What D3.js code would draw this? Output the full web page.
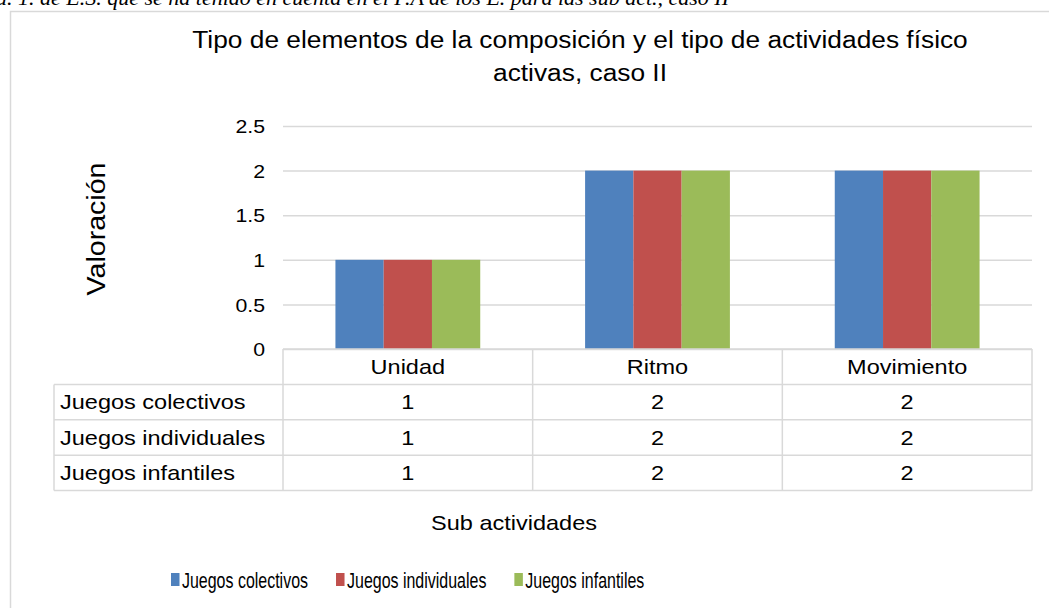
<!DOCTYPE html>
<html>
<head>
<meta charset="utf-8">
<script src="https://cdn.jsdelivr.net/npm/d3@7"></script>
<style>
  body { margin: 0; background: #fff; }
  svg { display: block; }
</style>
</head>
<body>
<div id="chart"></div>
<script>
// values
const categories = ['Unidad', 'Ritmo', 'Movimiento']
const seriesNames = ['Juegos colectivos', 'Juegos individuales', 'Juegos infantiles']
const colectivos = [1, 2, 2]
const individuales = [1, 2, 2]
const infantiles = [1, 2, 2]
const yTicks = [0, 0.5, 1, 1.5, 2, 2.5]
const colors = ['#4f81bd', '#c0504d', '#9bbb59']

const seriesValues = [colectivos, individuales, infantiles]

const width = 1049
const height = 608
const font = 'Liberation Sans, Arial, sans-serif'
const SX = 1.12 // text in the picture is drawn a bit wide
const grid = '#d9d9d9'

const plot = { left: 283, right: 1032, top: 126, bottom: 349 }
const rowH = 35.4
const labelLeft = 54

const svg = d3.select('#chart')
  .append('svg')
  .attr('width', width)
  .attr('height', height)

const txt = (x, y, str, size, anchor, sx, rot) => {
  return svg.append('text')
    .attr('transform', `translate(${x},${y})` + (rot ? ` rotate(${rot})` : '') + ` scale(${sx},1)`)
    .attr('text-anchor', anchor)
    .attr('font-family', font)
    .attr('font-size', size)
    .attr('fill', '#000')
    .text(str)
}

// caption of the page, cut off by the top edge (as in the source)
svg.append('text')
  .attr('x', -4)
  .attr('y', 5)
  .attr('font-family', 'Liberation Serif, Times New Roman, serif')
  .attr('font-style', 'italic')
  .attr('font-size', 22)
  .text('a. 1. de E.S. que se ha tenido en cuenta en el P.A de los E. para las sub act., caso II')

// chart frame
svg.append('rect')
  .attr('x', 10.5)
  .attr('y', 11.5)
  .attr('width', 1200)
  .attr('height', 800)
  .attr('fill', 'none')
  .attr('stroke', grid)
  .attr('stroke-width', 1.5)

// title
txt(580, 47.5, 'Tipo de elementos de la composición y el tipo de actividades físico', 23.5, 'middle', SX)
txt(580, 80.5, 'activas, caso II', 23.5, 'middle', SX)

const x0 = d3.scaleBand()
  .domain(categories)
  .range([plot.left, plot.right])
  .paddingInner(0)
  .paddingOuter(0)

const groupW = x0.bandwidth() * 0.58
const x1 = d3.scaleBand()
  .domain(seriesNames)
  .range([0, groupW])

const y = d3.scaleLinear()
  .domain([0, 2.5])
  .range([plot.bottom, plot.top])

// gridlines
const gridAxis = svg.append('g')
  .attr('transform', `translate(${plot.left},0)`)
  .call(d3.axisLeft(y).tickValues(yTicks).tickSize(-(plot.right - plot.left)).tickFormat(''))
gridAxis.select('.domain').remove()
gridAxis.selectAll('line')
  .attr('stroke', grid)
  .attr('stroke-width', 1.5)

// tick labels
const yAxis = svg.append('g')
  .attr('transform', `translate(${plot.left},0)`)
  .call(d3.axisLeft(y).tickValues(yTicks).tickSize(0).tickPadding(0).tickFormat(d => String(d)))
yAxis.select('.domain').remove()
yAxis.selectAll('text')
  .attr('x', 0)
  .attr('dy', '0.35em')
  .attr('transform', 'translate(-18,0) scale(' + SX + ',1)')
  .attr('font-family', font)
  .attr('font-size', 19)
  .attr('fill', '#000')

txt(105, 229, 'Valoración', 25.5, 'middle', SX, -90)

// bars
const groups = svg.append('g')
  .selectAll('g')
  .data(categories)
  .join('g')
  .attr('transform', d => `translate(${x0(d) + (x0.bandwidth() - groupW) / 2},0)`)

groups.selectAll('rect')
  .data((c, i) => seriesNames.map((s, k) => ({ s, k, v: seriesValues[k][i] })))
  .join('rect')
  .attr('x', d => x1(d.s))
  .attr('y', d => y(d.v))
  .attr('width', x1.bandwidth())
  .attr('height', d => y(0) - y(d.v))
  .attr('fill', d => colors[d.k])

// data table
const tableTop = y(0)
const tableBottom = tableTop + rowH * 4
const lines = svg.append('g')
  .attr('stroke', grid)
  .attr('stroke-width', 1.5)
  .attr('fill', 'none')

// horizontal lines
lines.append('line')
  .attr('x1', plot.left).attr('x2', plot.right)
  .attr('y1', tableTop).attr('y2', tableTop)
d3.range(1, 5).forEach(r => {
  lines.append('line')
    .attr('x1', labelLeft).attr('x2', plot.right)
    .attr('y1', tableTop + r * rowH).attr('y2', tableTop + r * rowH)
})
// vertical lines
lines.append('line')
  .attr('x1', labelLeft).attr('x2', labelLeft)
  .attr('y1', tableTop + rowH).attr('y2', tableBottom)
categories.forEach(c => {
  lines.append('line')
    .attr('x1', x0(c)).attr('x2', x0(c))
    .attr('y1', tableTop).attr('y2', tableBottom)
})
lines.append('line')
  .attr('x1', plot.right).attr('x2', plot.right)
  .attr('y1', tableTop).attr('y2', tableBottom)

const rowBase = r => tableTop + r * rowH + rowH / 2 + 7.3

categories.forEach(c => {
  txt(x0(c) + x0.bandwidth() / 2, rowBase(0), c, 21, 'middle', SX)
})
seriesNames.forEach((s, k) => {
  txt(60, rowBase(k + 1), s, 21, 'start', SX)
  categories.forEach((c, i) => {
    txt(x0(c) + x0.bandwidth() / 2, rowBase(k + 1), String(seriesValues[k][i]), 21, 'middle', SX)
  })
})

// x axis title
txt(514, 530, 'Sub actividades', 21, 'middle', SX)

// legend
const legSX = 0.71
let lx = 171
seriesNames.forEach((s, k) => {
  svg.append('rect')
    .attr('x', lx)
    .attr('y', 573)
    .attr('width', 8.5)
    .attr('height', 13)
    .attr('fill', colors[k])
  const t = txt(lx + 11, 588, s, 22.5, 'start', legSX)
  lx += 11 + t.node().getComputedTextLength() * legSX + 28
})
</script>
</body>
</html>
